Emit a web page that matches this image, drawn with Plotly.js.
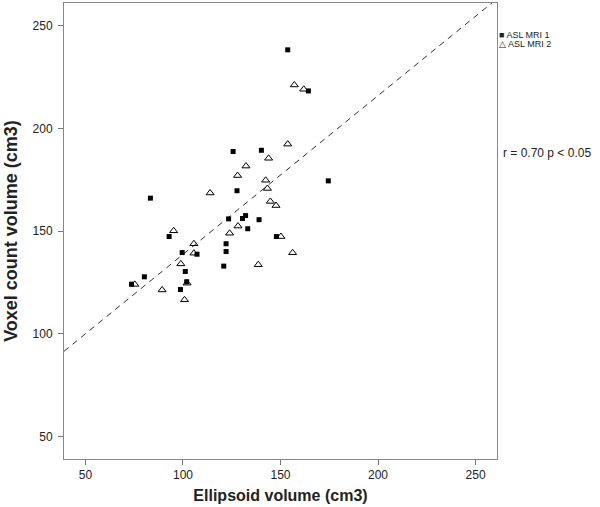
<!DOCTYPE html>
<html>
<head>
<meta charset="utf-8">
<script src="https://cdn.plot.ly/plotly-3.0.1.min.js"></script>
<style>html,body{margin:0;padding:0;background:#fff;}#chart{width:600px;height:507px;}</style>
</head>
<body>
<div id="chart"></div>
<script>
// ASL MRI 1 (filled squares)
const mri1Ellipsoid = [125.7,140.2,127.7,83.3,123.4,130.5,132.1,139.0,133.2,92.9,99.6,107.2,122.1,122.1,120.9,80.2,73.6,101.2,101.9,98.7,174.5,147.9,153.7,164.3];
const mri1Voxel     = [188.7,189.3,169.6,166.0,155.9,156.1,157.5,155.5,151.1,147.3,139.5,138.7,143.8,140.0,132.9,127.7,124.1,130.3,125.3,121.5,174.4,147.3,238.2,218.2];
// ASL MRI 2 (open triangles)
const mri2Ellipsoid = [132.3,128.0,113.9,95.2,105.6,105.6,98.9,128.2,123.9,138.6,75.3,89.3,102.1,100.8,153.7,143.9,142.4,143.3,144.8,147.7,150.2,156.2,157.1,161.9];
const mri2Voxel     = [181.6,177.0,168.5,150.1,143.8,139.2,134.0,152.4,148.9,133.6,124.0,121.3,124.6,116.5,192.3,185.4,174.7,170.7,164.4,162.4,147.3,139.4,221.1,219.0];
// fit line
const fitIntercept = 61.3;
const fitSlope = 0.773;
const axisRange = [39, 261];
const tickVals = [50, 100, 150, 200, 250];
const seriesNames = ["ASL MRI 1", "ASL MRI 2"];
const legendSymbols = ["■", "△"];
const annotationText = "r = 0.70 p < 0.05";

const FONT = 'Arial, Liberation Sans, sans-serif';
const fitX = [axisRange[0], axisRange[1]];
const fitY = fitX.map(v => fitIntercept + fitSlope * v);

const traces = [
  {x: fitX, y: fitY, mode: 'lines', type: 'scatter', showlegend: false, hoverinfo: 'skip', name: 'fit',
   line: {color: '#333', width: 1, dash: '6px,5px'}},
  {x: mri1Ellipsoid, y: mri1Voxel, mode: 'markers', type: 'scatter', name: seriesNames[0], showlegend: false,
   marker: {symbol: 'square', size: 5, color: '#000'}},
  {x: mri2Ellipsoid, y: mri2Voxel, mode: 'markers', type: 'scatter', name: seriesNames[1], showlegend: false,
   marker: {symbol: 'triangle-up-open', size: 7, color: '#000', line: {width: 1, color: '#000'}}}
];

const axisCommon = {
  range: axisRange, tickvals: tickVals, ticks: 'outside', ticklen: 5, tickcolor: '#777',
  showline: true, linecolor: '#888', linewidth: 1, mirror: true, showgrid: false, zeroline: false,
  tickfont: {family: FONT, size: 12, color: '#222'}
};

const legendAnnotations = seriesNames.map((n, i) => ({
  xref: 'paper', yref: 'paper', x: 1.002, y: 1 - (32 + i * 9) / 456, xanchor: 'left', yanchor: 'middle',
  text: legendSymbols[i] + ' ' + n, showarrow: false, borderpad: 0,
  font: {family: FONT, size: 9, color: '#222'}
}));

const layout = {
  width: 600, height: 507,
  margin: {l: 64, r: 103, t: 3, b: 48},
  paper_bgcolor: '#fff', plot_bgcolor: '#fff',
  xaxis: Object.assign({}, axisCommon, {
    title: {text: 'Ellipsoid volume (cm3)', standoff: 8,
            font: {family: FONT, size: 16, color: '#222', weight: 'bold'}}
  }),
  yaxis: Object.assign({}, axisCommon, {
    ticklabelstandoff: 3,
    title: {text: 'Voxel count volume (cm3)', standoff: 10,
            font: {family: FONT, size: 18, color: '#222', weight: 'bold'}}
  }),
  annotations: legendAnnotations.concat([{xref: 'paper', yref: 'paper', x: 1.012, y: 0.672, xanchor: 'left', yanchor: 'middle',
                 text: annotationText, showarrow: false, borderpad: 0,
                 font: {family: FONT, size: 12, color: '#222'}}]),
  showlegend: false
};

Plotly.newPlot('chart', traces, layout, {displayModeBar: false, staticPlot: true});
</script>
</body>
</html>
